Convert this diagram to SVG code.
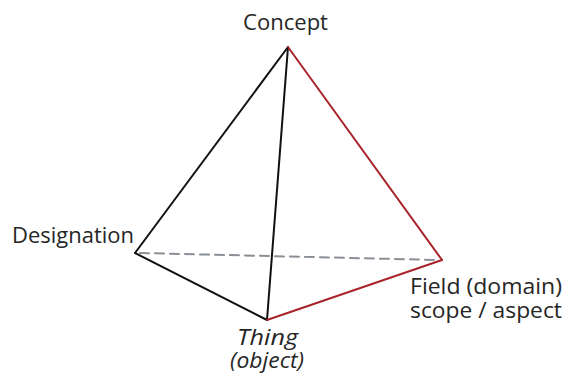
<svg xmlns="http://www.w3.org/2000/svg" width="566" height="373" viewBox="0 0 566 373">
<style>
.lbl{font-family:"Open Sans","Liberation Sans",sans-serif;font-size:21px;fill:#262626}
.it{font-style:italic}
.edge{stroke:#111;stroke-width:2;fill:none;stroke-linecap:round}
.red{stroke:#a8232a}
.dash{stroke:#8a8f96;stroke-width:2;stroke-dasharray:9 6}
</style>
<rect width="566" height="373" fill="#fff"/>
<g id="connectors">
<line class="edge dash" x1="140" y1="253" x2="438" y2="260"/>
<line class="edge" x1="288" y1="47" x2="135" y2="253"/>
<line class="edge" x1="288" y1="47" x2="267" y2="320"/>
<line class="edge" x1="135" y1="253" x2="267" y2="320"/>
<line class="edge red" x1="288" y1="47" x2="442" y2="260"/>
<line class="edge red" x1="267" y1="320" x2="442" y2="260"/>
</g>
<g id="concept"><text class="lbl" x="243" y="30" textLength="85" lengthAdjust="spacingAndGlyphs">Concept</text></g>
<g id="designation"><text class="lbl" x="12" y="243" textLength="122" lengthAdjust="spacingAndGlyphs">Designation</text></g>
<g id="thing"><text class="lbl it" x="237" y="345" textLength="61" lengthAdjust="spacingAndGlyphs">Thing</text><text class="lbl it" x="230" y="368" textLength="74" lengthAdjust="spacingAndGlyphs">(object)</text></g>
<g id="field"><text class="lbl" x="410" y="294" textLength="152" lengthAdjust="spacingAndGlyphs">Field (domain)</text><text class="lbl" x="410" y="318" textLength="152" lengthAdjust="spacingAndGlyphs">scope / aspect</text></g>
</svg>
